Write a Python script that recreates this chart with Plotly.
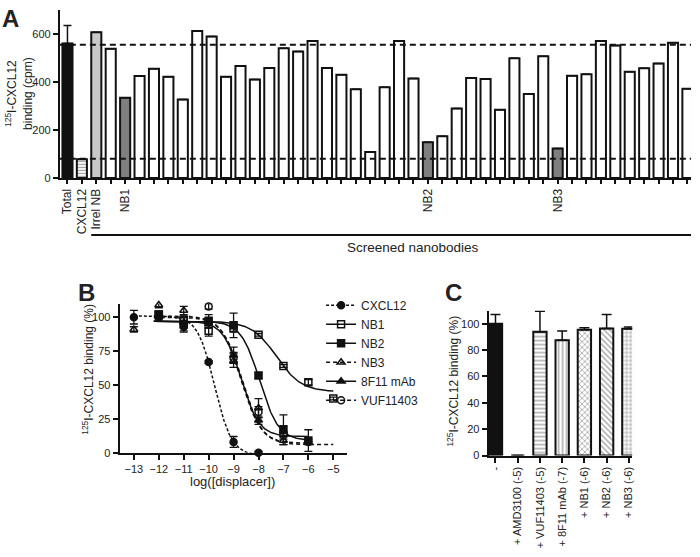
import numpy as np
import plotly.graph_objects as go

FONT = "Liberation Sans, Arial, sans-serif"

# ---------- panel A: nanobody screen ----------
screen_cpm = [560, 78, 607, 538, 334, 425, 455, 422, 327, 612, 589, 422, 466, 410, 458,
              540, 527, 571, 458, 430, 370, 108, 378, 571, 414, 149, 174, 290, 417, 412,
              284, 499, 350, 507, 123, 426, 432, 571, 552, 443, 457, 477, 563, 372]
# only some bars carry a name
named_pos = [0, 1, 2, 4, 25, 34]
named_labels = ["Total", "CXCL12", "Irrel NB", "NB1", "NB2", "NB3"]
total_err = 75
total_level = 555
nonspecific_level = 80

# ---------- panel B: displacement curves ----------
cxcl12_x = [-13, -12, -11, -10, -9, -8]
cxcl12_y = [100, 101, 93, 67, 8, 0]
cxcl12_e = [5, 2, 4, 1, 4, 1]
nb1_x = [-12, -11, -10, -9, -8, -7, -6, -5]
nb1_y = [102, 98, 90, 92, 87, 64, 52, 40]
nb1_e = [2, 2, 4, 3, 1, 1, 2, 1]
nb2_x = [-12, -11, -10, -9, -8, -7, -6]
nb2_y = [102, 95, 97, 94, 57, 17, 9]
nb2_e = [2, 5, 3, 9, 2, 11, 8]
nb3_x = [-13, -12, -11, -10, -9, -8, -7]
nb3_y = [91, 109, 105, 97, 68, 33, 9]
nb3_e = [2, 2, 3, 5, 5, 7, 3]
mab_x = [-12, -11, -10, -9, -8, -7]
mab_y = [101, 96, 95, 72, 24, 16]
mab_e = [2, 4, 3, 6, 3, 4]
vuf_x = [-12, -11, -10, -9, -8, -7, -6]
vuf_y = [100, 98, 108, 70, 30, 13, 8]
vuf_e = [2, 3, 2, 4, 4, 3, 2]

# fitted one-site curves: top, bottom, logIC50, slope, x-span
fit_top = [101, 97, 97, 101, 97, 100]
fit_bottom = [-2, 45, 9, 7, 12, 6]
fit_logic50 = [-9.76, -7.28, -7.95, -8.7, -8.7, -8.65]
fit_slope = [1.27, 0.87, 1.15, 1.1, 1.2, 1.1]
fit_start = [-13, -12.2, -12.2, -12.2, -12.2, -12.2]
fit_end = [-8.2, -5, -6, -6, -6, -5]

# ---------- panel C: single concentration ----------
cond_labels = ["-", "+ AMD3100 (-5)", "+ VUF11403 (-5)", "+ 8F11 mAb (-7)",
               "+ NB1 (-6)", "+ NB2 (-6)", "+ NB3 (-6)"]
cond_pct = [100, 0, 94, 87.5, 95.5, 96.5, 96.3]
cond_err = [7, 0, 15.5, 7, 1.5, 10.5, 1.2]

W, H = 700, 557


def px_x(p):
    return p / W


def px_y(p):
    return 1 - p / H


fig = go.Figure()

# panel A bars
name_at = dict(zip(named_pos, named_labels))
cols, pats = [], []
for i in range(len(screen_cpm)):
    lab = name_at.get(i, "")
    if lab == "Total":
        cols.append("#111111"); pats.append("")
    elif lab == "CXCL12":
        cols.append("white"); pats.append("-")
    elif lab == "Irrel NB":
        cols.append("#c8c8c8"); pats.append("")
    elif lab.startswith("NB"):
        cols.append("#7f7f7f"); pats.append("")
    else:
        cols.append("white"); pats.append("")
errs = [total_err if i == 0 else 0 for i in range(len(screen_cpm))]
fig.add_trace(go.Bar(
    x=list(range(len(screen_cpm))), y=screen_cpm, width=0.7,
    marker=dict(color=cols, line=dict(color="#111", width=2),
                pattern=dict(shape=pats, fgcolor="#111", bgcolor="white", size=3, solidity=0.4)),
    error_y=dict(type="data", array=errs, arrayminus=[0] * len(errs), symmetric=False,
                 color="#111", thickness=1.5, width=4),
    xaxis="x", yaxis="y", showlegend=False))

# panel B
series = [
    ("CXCL12", cxcl12_x, cxcl12_y, cxcl12_e, "circle", "3px,2px"),
    ("NB1", nb1_x, nb1_y, nb1_e, "square-open", "solid"),
    ("NB2", nb2_x, nb2_y, nb2_e, "square", "solid"),
    ("NB3", nb3_x, nb3_y, nb3_e, "triangle-up-open", "4px,3px"),
    ("8F11 mAb", mab_x, mab_y, mab_e, "triangle-up", "solid"),
    ("VUF11403", vuf_x, vuf_y, vuf_e, "circle-open", "4px,3px"),
]
for k, (name, xs, ys, es, sym, dash) in enumerate(series):
    xc = np.linspace(fit_start[k], fit_end[k], 200)
    yc = fit_bottom[k] + (fit_top[k] - fit_bottom[k]) / (1 + 10 ** ((xc - fit_logic50[k]) * fit_slope[k]))
    fig.add_trace(go.Scatter(x=xc, y=yc, mode="lines", line=dict(color="#111", width=1.5, dash=dash),
                             xaxis="x2", yaxis="y2", showlegend=False, hoverinfo="skip"))
    fig.add_trace(go.Scatter(x=xs, y=ys, mode="markers",
                             marker=dict(symbol=sym, size=7, color="#111", line=dict(color="#111", width=1.5)),
                             error_y=dict(type="data", array=es, color="#111", thickness=1.3, width=4),
                             xaxis="x2", yaxis="y2", showlegend=False, cliponaxis=False))
    fig.add_trace(go.Scatter(x=[None], y=[None], mode="lines+markers", name=name,
                             marker=dict(symbol=sym, size=7, color="#111", line=dict(color="#111", width=1.5)),
                             line=dict(color="#111", width=1.5, dash=dash),
                             xaxis="x2", yaxis="y2"))

# panel C bars
c_pats = ["", "", "-", "|", "x", "\\", "+"]
c_cols = ["#111111"] + ["white"] * 6
fig.add_trace(go.Bar(
    x=list(range(len(cond_pct))), y=cond_pct, width=0.6,
    marker=dict(color=c_cols, line=dict(color="#111", width=2),
                pattern=dict(shape=c_pats, fgcolor="#111", bgcolor="white", size=4, solidity=0.35)),
    error_y=dict(type="data", array=cond_err, arrayminus=[0] * len(cond_err), symmetric=False,
                 color="#111", thickness=1.5, width=5),
    xaxis="x3", yaxis="y3", showlegend=False))

axis_common = dict(showline=True, linecolor="#111", linewidth=2, ticks="outside",
                   tickcolor="#111", tickwidth=1.5, ticklen=5, showgrid=False, zeroline=False,
                   tickfont=dict(family=FONT, size=11, color="#222"))

fig.update_layout(
    width=W, height=H, margin=dict(l=0, r=0, t=0, b=0),
    paper_bgcolor="white", plot_bgcolor="white",
    font=dict(family=FONT, size=12, color="#222"),
    xaxis=dict(axis_common, domain=[px_x(60), px_x(693)], range=[-0.53, 43.25],
               tickvals=named_pos, ticktext=named_labels, tickangle=-90,
               tickfont=dict(family=FONT, size=12, color="#222"), ticklen=4,
               minor=dict(tick0=0, dtick=1, ticks="outside", ticklen=4, tickwidth=1.5,
                          tickcolor="#111", showgrid=False),
               anchor="y"),
    yaxis=dict(axis_common, domain=[px_y(180), px_y(10)], range=[0, 700],
               tickvals=[0, 200, 400, 600], anchor="x"),
    xaxis2=dict(axis_common, domain=[px_x(120), px_x(348)], range=[-13.57, -4.45],
                tickvals=list(range(-13, -4)), anchor="y2"),
    yaxis2=dict(axis_common, domain=[px_y(457.7), px_y(307)], range=[0, 110],
                tickvals=[0, 25, 50, 75, 100], anchor="x2"),
    xaxis3=dict(axis_common, domain=[px_x(490), px_x(634)], range=[-0.31, 6.15],
                tickvals=list(range(len(cond_pct))), ticktext=cond_labels, tickangle=-90,
                anchor="y3"),
    yaxis3=dict(axis_common, domain=[px_y(460.5), px_y(314)], range=[0, 110],
                tickvals=[0, 20, 40, 60, 80, 100], anchor="x3"),
    legend=dict(x=px_x(322), y=px_y(294), xanchor="left", yanchor="top",
                font=dict(family=FONT, size=12, color="#222"), itemwidth=30,
                bgcolor="rgba(0,0,0,0)", tracegroupgap=0),
    bargap=0.3,
)

# dashed reference lines in A
for lvl in [total_level, nonspecific_level]:
    fig.add_shape(type="line", xref="x domain", yref="y", x0=0, x1=1, y0=lvl, y1=lvl,
                  line=dict(color="#111", width=2, dash="6px,4px"))
# screened nanobodies bracket
fig.add_shape(type="line", xref="x", yref="paper", x0=1.65, x1=43.35,
              y0=px_y(237.5), y1=px_y(237.5), line=dict(color="#111", width=2))

ann = [
    dict(text="<b>A</b>", x=px_x(0), y=px_y(3), xanchor="left", yanchor="top", font=dict(size=24)),
    dict(text="<b>B</b>", x=px_x(76), y=px_y(280), xanchor="left", yanchor="top", font=dict(size=24)),
    dict(text="<b>C</b>", x=px_x(444), y=px_y(280), xanchor="left", yanchor="top", font=dict(size=24)),
    dict(text="<sup>125</sup>I-CXCL12<br>binding (cpm)", x=px_x(19), y=px_y(94), textangle=-90,
         xanchor="center", yanchor="middle", font=dict(size=12)),
    dict(text="<sup>125</sup>I-CXCL12 binding (%)", x=px_x(88), y=px_y(373), textangle=-90,
         xanchor="center", yanchor="middle", font=dict(size=12)),
    dict(text="<sup>125</sup>I-CXCL12 binding (%)", x=px_x(454), y=px_y(385), textangle=-90,
         xanchor="center", yanchor="middle", font=dict(size=12)),
    dict(text="log([displacer])", x=px_x(233), y=px_y(487), xanchor="center", yanchor="middle",
         font=dict(size=13)),
    dict(text="Screened nanobodies", x=px_x(414), y=px_y(250), xanchor="center", yanchor="middle",
         font=dict(size=13.5)),
]
for a in ann:
    fig.add_annotation(xref="paper", yref="paper", showarrow=False, **a)

# drop the default 8px page margin so the figure sits at the window origin
fig.write_html("out.html", config={"displayModeBar": False},
               post_script="document.body.style.margin='0';")
